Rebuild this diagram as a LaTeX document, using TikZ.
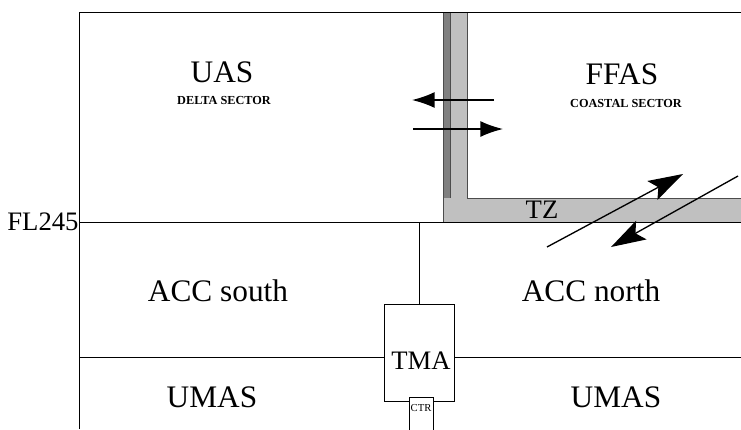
\documentclass[tikz,border=0pt]{standalone}
\usepackage{fontspec}
\setmainfont{Liberation Serif}
\usetikzlibrary{arrows.meta}
\definecolor{bandgray}{HTML}{C0C0C0}
\definecolor{stripgray}{HTML}{808080}
\tikzset{
  big/.style={font=\fontsize{23.5}{24}\selectfont},
  mid/.style={font=\fontsize{20}{20}\selectfont},
  sub/.style={font=\fontsize{9.2}{10}\selectfont\bfseries},
  flow/.style={-{Latex[length=17pt,width=12pt]},line width=1.1pt},
  cross/.style={-{Stealth[length=26pt,width=16pt,inset=5pt]},line width=1pt}
}
\begin{document}
\begin{tikzpicture}[x=0.75pt,y=-0.75pt,line width=0.75pt]
\useasboundingbox (0,0) rectangle (741,429);
% transition zone
\fill[bandgray] (443,12) rectangle (467,198);
\fill[stripgray] (443,12) rectangle (450,198);
\fill[bandgray] (443,198) rectangle (741,222);
\draw[black!70] (443,12) -- (443,222);
\draw[black!70] (450,12) -- (450,198);
\draw[black!70] (467,12) -- (467,198) -- (741,198);

% frame and levels
\coordinate (tl) at (79,12);
\coordinate (tr) at (741,12);
\coordinate (bl) at (79,429);
\draw (bl) -- (tl) -- (tr);
\coordinate (flL) at (79,222);
\coordinate (flR) at (741,222);
\node[mid,anchor=east,inner sep=0pt] (fl) at (flL) {FL245};
\draw (flL) -- (flR);

\node[draw,minimum width=52.5pt,minimum height=72.75pt,inner sep=0pt] (tma) at (419,352.5) {};
\node[mid] (tmalbl) at (421,361) {TMA};
\draw (tma.north) -- (tma.north |- flL);
\coordinate (lowL) at (79,357);
\coordinate (lowR) at (741,357);
\draw (lowL) -- (lowL -| tma.west);
\draw (lowR -| tma.east) -- (lowR);
\fill[white] (409,397) rectangle (433,429);
\draw (409,432) -- (409,397) -- (433,397) -- (433,432);
\node[font=\fontsize{8}{8}\selectfont,anchor=north,inner sep=1pt] (ctr) at (421,403) {CTR};

% sectors
\node[big] (uas) at (222,72) {UAS};
\node[sub] (delta) at (224,100) {DELTA SECTOR};
\node[big] (ffas) at (622,74) {FFAS};
\node[sub] (coastal) at (626,103) {COASTAL SECTOR};
\node[mid] (tz) at (542,210) {TZ};
\node[big] (accs) at (218,291) {ACC south};
\node[big] (accn) at (591,291) {ACC north};
\node[big] (umasl) at (212,397) {UMAS};
\node[big] (umasr) at (616,397) {UMAS};

% handovers
\coordinate (wbA) at (494,100);
\coordinate (wbB) at (412,100);
\draw[flow] (wbA) -- (wbB);
\coordinate (ebA) at (413,129);
\coordinate (ebB) at (503,129);
\draw[flow] (ebA) -- (ebB);
\coordinate (upA) at (547,247);
\coordinate (upB) at (683,174);
\draw[cross] (upA) -- (upB);
\coordinate (dnA) at (738,176);
\coordinate (dnB) at (611,247);
\draw[cross] (dnA) -- (dnB);
\end{tikzpicture}
\end{document}
